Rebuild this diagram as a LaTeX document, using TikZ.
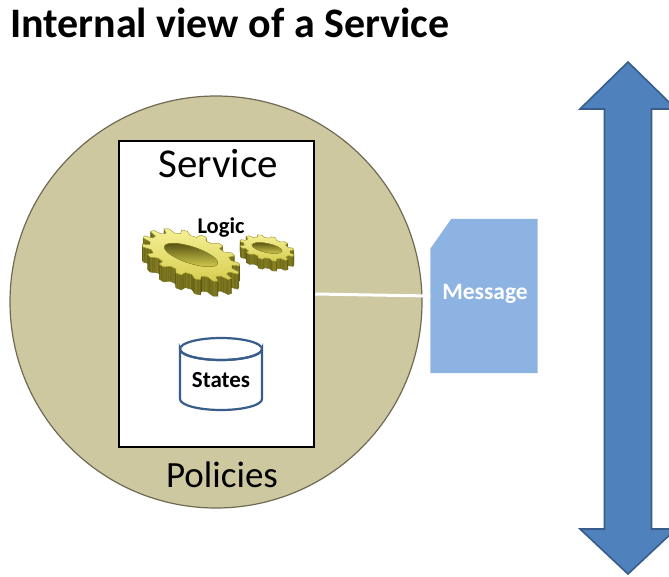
\documentclass[tikz,border=0pt]{standalone}
\usepackage{fontspec}
\setmainfont{Carlito}
\usetikzlibrary{calc}

\definecolor{policytan}{RGB}{206,200,160}
\definecolor{policyedge}{RGB}{110,106,84}
\definecolor{msgblue}{RGB}{141,179,226}
\definecolor{arrowblue}{RGB}{79,129,189}
\definecolor{arrowedge}{RGB}{56,93,138}
\definecolor{geartop}{RGB}{246,240,150}
\definecolor{gearmid}{RGB}{214,206,80}
\definecolor{gearside}{RGB}{150,143,40}
\definecolor{geardark}{RGB}{84,80,18}

% one toothed outline of a gear in unit coordinates
\newcommand\gearpath[3]{% #1 options, #2 teeth, #3 root radius
  \path[#1] (0:#3) \foreach \k in {1,...,#2} {
      -- ({(\k-1+0.15)*360/#2}:1) -- ({(\k-1+0.45)*360/#2}:1)
      -- ({(\k-1+0.6)*360/#2}:#3) -- ({\k*360/#2}:#3)} -- cycle;}

% a tilted 3D gear: x, y, x radius, y radius, rotation, thickness, teeth
\newcommand\gearthree[7]{%
  \foreach \t in {#6,...,1} {
    \begin{scope}[shift={(#1,#2)}, yshift=-\t pt, rotate=#5, xscale=#3, yscale=#4]
      \gearpath{fill=gearside, draw=geardark, line width=0.3pt}{#7}{0.84}
    \end{scope}}
  \begin{scope}[shift={(#1,#2)}, rotate=#5, xscale=#3, yscale=#4]
    \gearpath{top color=geartop, bottom color=gearmid, draw=gearside, line width=0.4pt}{#7}{0.84}
    \fill[top color=geardark, bottom color=gearmid] (0,0) ellipse [x radius=0.55, y radius=0.38];
    \draw[gearside, line width=0.4pt] (0,0) ellipse [x radius=0.55, y radius=0.38];
  \end{scope}}

\tikzset{
  heading/.style={font=\bfseries\fontsize{42}{48}\selectfont, anchor=base west, inner sep=0},
  bigword/.style={font=\fontsize{41}{48}\selectfont, anchor=base, inner sep=0},
  smallbold/.style={font=\bfseries\fontsize{22.5}{26}\selectfont, anchor=base, inner sep=0},
  policy/.style={circle, fill=policytan, draw=policyedge, line width=1.2pt, minimum size=412pt, inner sep=0},
  servicebox/.style={draw=black, line width=2.5pt, fill=white, minimum width=195pt, minimum height=306pt, inner sep=0},
  msgbox/.style={minimum width=107pt, minimum height=154pt, inner sep=0},
  wire/.style={white, line width=3pt},
  dbline/.style={draw=arrowedge, line width=2.2pt, fill=white},
}

\begin{document}
\begin{tikzpicture}[x=1pt, y=-1pt]
\useasboundingbox (0,0) rectangle (669,576);

% title
\node[heading] (title) at (10,37) {Internal view of a Service};

% policies circle and service box
\node[policy] (pol) at (216,302) {};
\node[servicebox] (svc) at (216.5,294) {};
\node[bigword] (svcname) at (218,177) {Service};
\node[bigword, font=\fontsize{37}{44}\selectfont] (policies) at (222,487) {Policies};

% logic gears
\gearthree{267}{248}{28}{12}{-12}{10}{12}
\gearthree{191}{255}{51}{22}{-18}{15}{16}
\node[smallbold] (logic) at (221,233) {Logic};

% state store
\coordinate (dbtop) at (221,349);
\coordinate (dbbot) at (221,399);
\path[dbline] ($(dbtop)+(-41,0)$) -- ($(dbbot)+(-41,0)$)
  arc [start angle=180, end angle=360, x radius=41, y radius=-11]
  -- ($(dbtop)+(41,0)$) arc [start angle=0, end angle=180, x radius=41, y radius=11] -- cycle;
\draw[dbline, fill=none] (dbtop) ellipse [x radius=41, y radius=11];
\node[smallbold, font=\bfseries\fontsize{23}{27}\selectfont] (states) at (221,387) {States};

% message card
\node[msgbox] (msg) at (484,296) {};
\fill[msgblue] (msg.south west) -- ($(msg.north west)+(0,30)$) -- ($(msg.north west)+(21,0)$)
  -- (msg.north east) -- (msg.south east) -- cycle;
\node[smallbold, white, font=\bfseries\fontsize{23.5}{28}\selectfont] (msgtext) at (485,299) {Message};

% link from service to message
\draw[wire] (svc.east) -- (msg.west);

% vertical double arrow
\coordinate (uptip) at (628,62);
\coordinate (downtip) at (628,574);
\draw[fill=arrowblue, draw=arrowedge, line width=1.6pt, line join=miter]
  (uptip) -- ++(48,47) -- ++(-24.5,0) -- ($(downtip)+(23.5,-45)$) -- ++(24.5,0)
  -- (downtip) -- ++(-48,-45) -- ++(24.5,0) -- ($(uptip)+(-23.5,47)$) -- ++(-24.5,0) -- cycle;
\end{tikzpicture}
\end{document}
